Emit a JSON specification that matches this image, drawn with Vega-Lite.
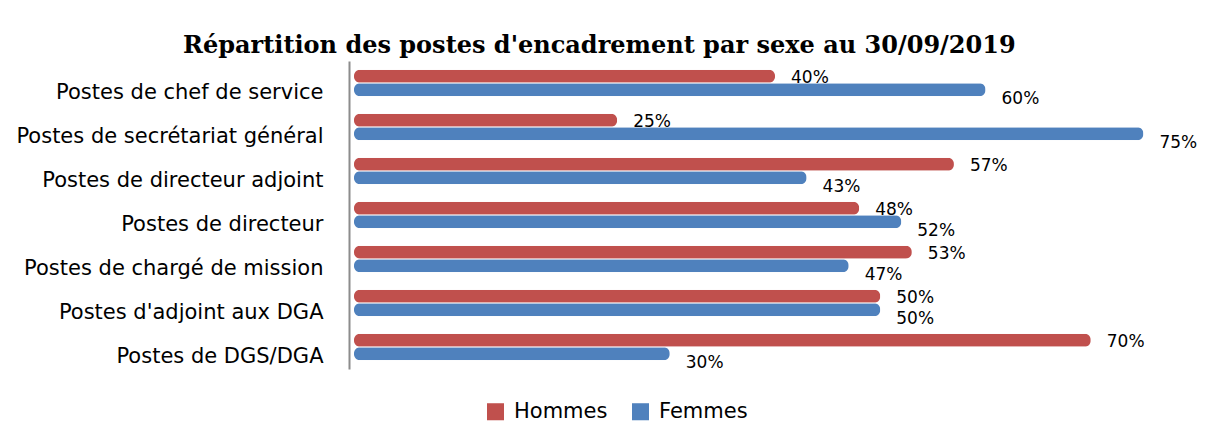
{
  "$schema": "https://vega.github.io/schema/vega-lite/v6.json",
  "width": 842,
  "height": 308,
  "autosize": {"type": "none"},
  "padding": {"left": 354, "top": 61, "right": 13, "bottom": 63},
  "background": "white",
  "title": {
    "text": "Répartition des postes d'encadrement  par sexe au 30/09/2019",
    "font": "DejaVu Serif",
    "fontSize": 24,
    "fontWeight": "bold",
    "color": "black",
    "anchor": "start",
    "frame": "group",
    "dx": -171,
    "dy": 25,
    "baseline": "alphabetic",
    "offset": 9
  },
  "data": {
    "values": [
      {"poste": "Postes de chef de service", "sexe": "Hommes", "part": 0.40},
      {"poste": "Postes de chef de service", "sexe": "Femmes", "part": 0.60},
      {"poste": "Postes de secrétariat général", "sexe": "Hommes", "part": 0.25},
      {"poste": "Postes de secrétariat général", "sexe": "Femmes", "part": 0.75},
      {"poste": "Postes de directeur adjoint", "sexe": "Hommes", "part": 0.57},
      {"poste": "Postes de directeur adjoint", "sexe": "Femmes", "part": 0.43},
      {"poste": "Postes de directeur", "sexe": "Hommes", "part": 0.48},
      {"poste": "Postes de directeur", "sexe": "Femmes", "part": 0.52},
      {"poste": "Postes de chargé de mission", "sexe": "Hommes", "part": 0.53},
      {"poste": "Postes de chargé de mission", "sexe": "Femmes", "part": 0.47},
      {"poste": "Postes d'adjoint aux DGA", "sexe": "Hommes", "part": 0.50},
      {"poste": "Postes d'adjoint aux DGA", "sexe": "Femmes", "part": 0.50},
      {"poste": "Postes de DGS/DGA", "sexe": "Hommes", "part": 0.70},
      {"poste": "Postes de DGS/DGA", "sexe": "Femmes", "part": 0.30}
    ]
  },
  "encoding": {
    "y": {
      "field": "poste",
      "type": "nominal",
      "sort": null,
      "scale": {"paddingInner": 0.4, "paddingOuter": 0.2},
      "axis": {
        "title": null,
        "ticks": false,
        "grid": false,
        "domain": true,
        "domainColor": "#8c8c8c",
        "domainWidth": 2,
        "offset": 5,
        "labelPadding": 26,
        "labelOffset": 10,
        "labelFont": "DejaVu Sans",
        "labelFontSize": 21,
        "labelColor": "black",
        "labelLimit": 400
      }
    },
    "x": {
      "field": "part",
      "type": "quantitative",
      "scale": {"domain": [0, 0.8]},
      "axis": null
    },
    "yOffset": {
      "field": "sexe",
      "type": "nominal",
      "sort": ["Hommes", "Femmes"],
      "scale": {"paddingInner": 0.05}
    }
  },
  "layer": [
    {
      "mark": {"type": "bar", "cornerRadius": 6},
      "encoding": {
        "color": {
          "field": "sexe",
          "type": "nominal",
          "sort": ["Hommes", "Femmes"],
          "scale": {"domain": ["Hommes", "Femmes"], "range": ["#C0504D", "#4F81BD"]},
          "legend": {
            "title": null,
            "orient": "none",
            "direction": "horizontal",
            "legendX": 131,
            "legendY": 340,
            "symbolType": "square",
            "symbolSize": 290,
            "symbolStrokeWidth": 0,
            "labelFont": "DejaVu Sans",
            "labelFontSize": 21,
            "labelColor": "black",
            "columnPadding": 22,
            "labelOffset": 8
          }
        }
      }
    },
    {
      "transform": [{"filter": "datum.sexe === 'Hommes'"}],
      "mark": {"type": "text", "align": "left", "baseline": "middle", "dx": 16, "dy": 2, "font": "DejaVu Sans", "fontSize": 17, "color": "black"},
      "encoding": {"text": {"field": "part", "type": "quantitative", "format": ".0%"}}
    },
    {
      "transform": [{"filter": "datum.sexe === 'Femmes'"}],
      "mark": {"type": "text", "align": "left", "baseline": "middle", "dx": 16, "dy": 9, "font": "DejaVu Sans", "fontSize": 17, "color": "black"},
      "encoding": {"text": {"field": "part", "type": "quantitative", "format": ".0%"}}
    }
  ],
  "config": {"view": {"stroke": null}}
}
